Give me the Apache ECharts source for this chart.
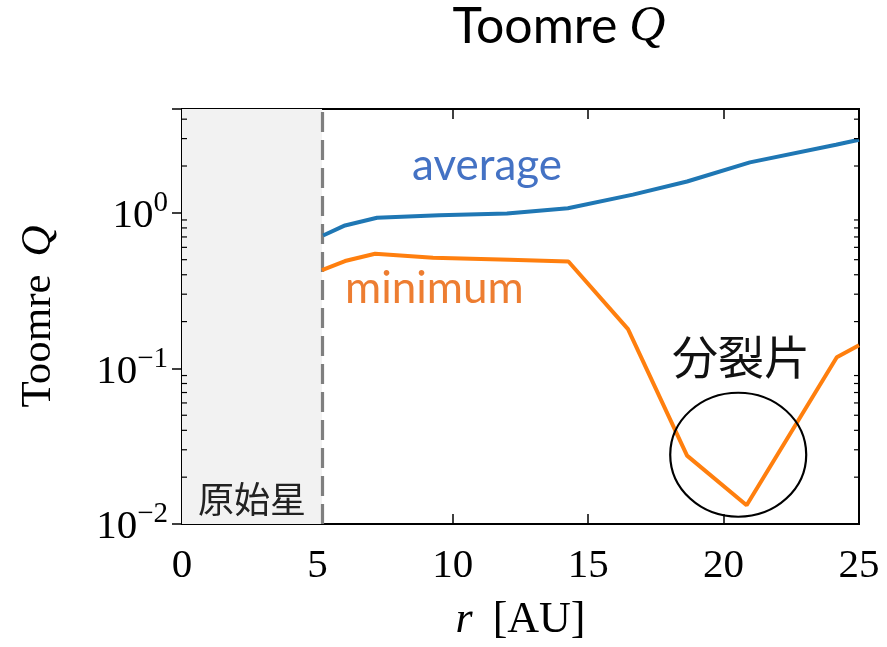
<!DOCTYPE html>
<html>
<head>
<meta charset="utf-8">
<script src="https://cdn.jsdelivr.net/npm/echarts@6/dist/echarts.min.js"></script>
<style>
html,body{margin:0;padding:0;background:#fff;}
#chart{width:887px;height:647px;}
</style>
</head>
<body>
<div id="chart"></div>
<script>
// ---- data ----
const rAverage = [5.21, 6.02, 7.20, 9.5, 12.0, 14.25, 16.65, 18.65, 20.97, 24.15, 25.0];
const qAverage = [0.715, 0.83, 0.93, 0.965, 0.99, 1.07, 1.31, 1.59, 2.11, 2.74, 2.95];
const rMinimum = [5.17, 6.02, 7.13, 9.27, 12.1, 14.27, 16.47, 18.65, 20.85, 24.18, 25.0];
const qMinimum = [0.429, 0.49, 0.546, 0.515, 0.50, 0.487, 0.179, 0.0275, 0.0132, 0.118, 0.141];
const xTicks = [0, 5, 10, 15, 20, 25];
const yMajorTicks = [0.01, 0.1, 1];
const yMinorTicks = [0.02,0.03,0.04,0.05,0.06,0.07,0.08,0.09,0.2,0.3,0.4,0.5,0.6,0.7,0.8,0.9,2,3,4];
const protostarEdge = 5.17;
const fragmentCenter = [20.54, 0.0279];
const yMin = 0.01, yMax = 4.65;

const serif = '"Liberation Serif", "DejaVu Serif", serif';
const sans = 'Lato, "Open Sans", sans-serif';
const cjk = '"Noto Sans CJK JP", "Noto Sans CJK SC", sans-serif';

function pair(xs, ys){ return xs.map((x,i)=>[x, ys[i]]); }

function yLabel(v){
  const e = Math.log10(v);
  const k = Math.round(e);
  if (Math.abs(e-k) > 1e-6 || !yMajorTicks.some(t=>Math.abs(t-v)<1e-9)) return '';
  return '{b|10}{s|' + (k < 0 ? '\u2212' + (-k) : k) + '}';
}

const chart = echarts.init(document.getElementById('chart'), null, {renderer:'canvas'});
const tickStyle = {show:true, inside:true, length:10, lineStyle:{color:'#000', width:1.5}};

const option = {
  animation:false,
  backgroundColor:'#fff',
  grid:{left:182, right:28, top:109, bottom:121, show:true, borderColor:'#000', borderWidth:2, backgroundColor:'transparent'},
  xAxis:[
    {type:'value', min:0, max:25, interval:5, position:'bottom',
     axisLine:{show:false}, splitLine:{show:false}, axisTick:tickStyle,
     axisLabel:{margin:22, fontFamily:serif, fontSize:41, color:'#000',
       formatter:(v)=> xTicks.includes(v) ? String(v) : ''},
     name:'{r|r}{u|[AU]}', nameLocation:'middle', nameGap:74,
     nameTextStyle:{fontFamily:serif, fontSize:44, color:'#000',
       rich:{r:{fontFamily:serif, fontStyle:'italic', fontSize:44, color:'#000', padding:[0,20,0,0]},
             u:{fontFamily:serif, fontSize:44, color:'#000'}}}},
    {type:'value', min:0, max:25, interval:5, position:'top',
     axisLine:{show:false}, splitLine:{show:false}, axisTick:tickStyle, axisLabel:{show:false}}
  ],
  yAxis:[
    {type:'log', logBase:10, min:yMin, max:yMax, position:'left',
     axisLine:{show:false}, splitLine:{show:false},
     axisTick:Object.assign({}, tickStyle),
     axisLabel:{margin:14, formatter:yLabel,
       rich:{b:{fontFamily:serif, fontSize:41, color:'#000', verticalAlign:'bottom', lineHeight:48},
             s:{fontFamily:serif, fontSize:29, color:'#000', verticalAlign:'top', lineHeight:48}}},
     name:'{n|Toomre}{q|Q}', nameLocation:'middle', nameRotate:90, nameGap:122,
     nameTextStyle:{fontFamily:serif, fontSize:43, color:'#000',
       rich:{n:{fontFamily:serif, fontSize:43, color:'#000', padding:[0,18,0,0]},
             q:{fontFamily:serif, fontStyle:'italic', fontSize:43, color:'#000'}}}},
    {type:'log', logBase:10, min:yMin, max:yMax, position:'right',
     axisLine:{show:false}, splitLine:{show:false}, axisTick:tickStyle, axisLabel:{show:false}}
  ],
  series:[
    {type:'line', name:'average', data:pair(rAverage, qAverage), showSymbol:false,
     lineStyle:{color:'#1f77b4', width:4}, itemStyle:{color:'#1f77b4'}, z:5,
     markArea:{silent:true, itemStyle:{color:'#f2f2f2'}, data:[[{xAxis:0},{xAxis:protostarEdge}]]},
     markLine:{silent:true, symbol:'none', label:{show:false},
       lineStyle:{color:'#7f7f7f', type:[20,8], width:3.2}, data:[{xAxis:protostarEdge}]}
    },
    {type:'line', name:'minimum', data:pair(rMinimum, qMinimum), showSymbol:false,
     lineStyle:{color:'#ff7f0e', width:4}, itemStyle:{color:'#ff7f0e'}, z:5},
    {type:'custom', name:'minorTicks', silent:true, z:10,
     data:yMinorTicks.map(v=>[0, v]),
     renderItem:function(params, api){
       const v = api.value(1);
       const pl = api.coord([0, v]);
       const pr = api.coord([25, v]);
       return {type:'group', children:[
         {type:'line', shape:{x1:pl[0], y1:pl[1], x2:pl[0]+5, y2:pl[1]}, style:{stroke:'#000', lineWidth:1.2}},
         {type:'line', shape:{x1:pr[0], y1:pr[1], x2:pr[0]-5, y2:pr[1]}, style:{stroke:'#000', lineWidth:1.2}}
       ]};
     }}
  ]
};
chart.setOption(option);

const c = chart.convertToPixel({gridIndex:0}, fragmentCenter);
chart.setOption({
  graphic:[
    {type:'text', x:559, y:52, silent:true, z:100,
     style:{rich:{t:{fontFamily:sans, fontSize:50, fill:'#000', padding:[0,12,0,0]}, q:{fontFamily:serif, fontStyle:'italic', fontSize:50, fill:'#000'}},
            text:'{t|Toomre}{q|Q}', align:'center', verticalAlign:'bottom'}},
    {type:'text', x:412, y:166, silent:true, z:100,
     style:{text:'average', fontFamily:sans, fontSize:44, fill:'#4472C4', align:'left', verticalAlign:'middle'}},
    {type:'text', x:345, y:289, silent:true, z:100,
     style:{text:'minimum', fontFamily:sans, fontSize:44, fill:'#ED7D31', align:'left', verticalAlign:'middle'}},
    {type:'text', x:672, y:357, silent:true, z:100,
     style:{text:'分裂片', fontFamily:cjk, fontSize:46, fill:'#111', align:'left', verticalAlign:'middle'}},
    {type:'text', x:198, y:499, silent:true, z:100,
     style:{text:'原始星', fontFamily:cjk, fontSize:36, fill:'#222', align:'left', verticalAlign:'middle'}},
    {type:'circle', x:c[0], y:c[1], scaleX:68/62, silent:true, z:100,
     shape:{cx:0, cy:0, r:62}, style:{fill:'none', stroke:'#000', lineWidth:2, strokeNoScale:true}}
  ]
});
</script>
</body>
</html>
